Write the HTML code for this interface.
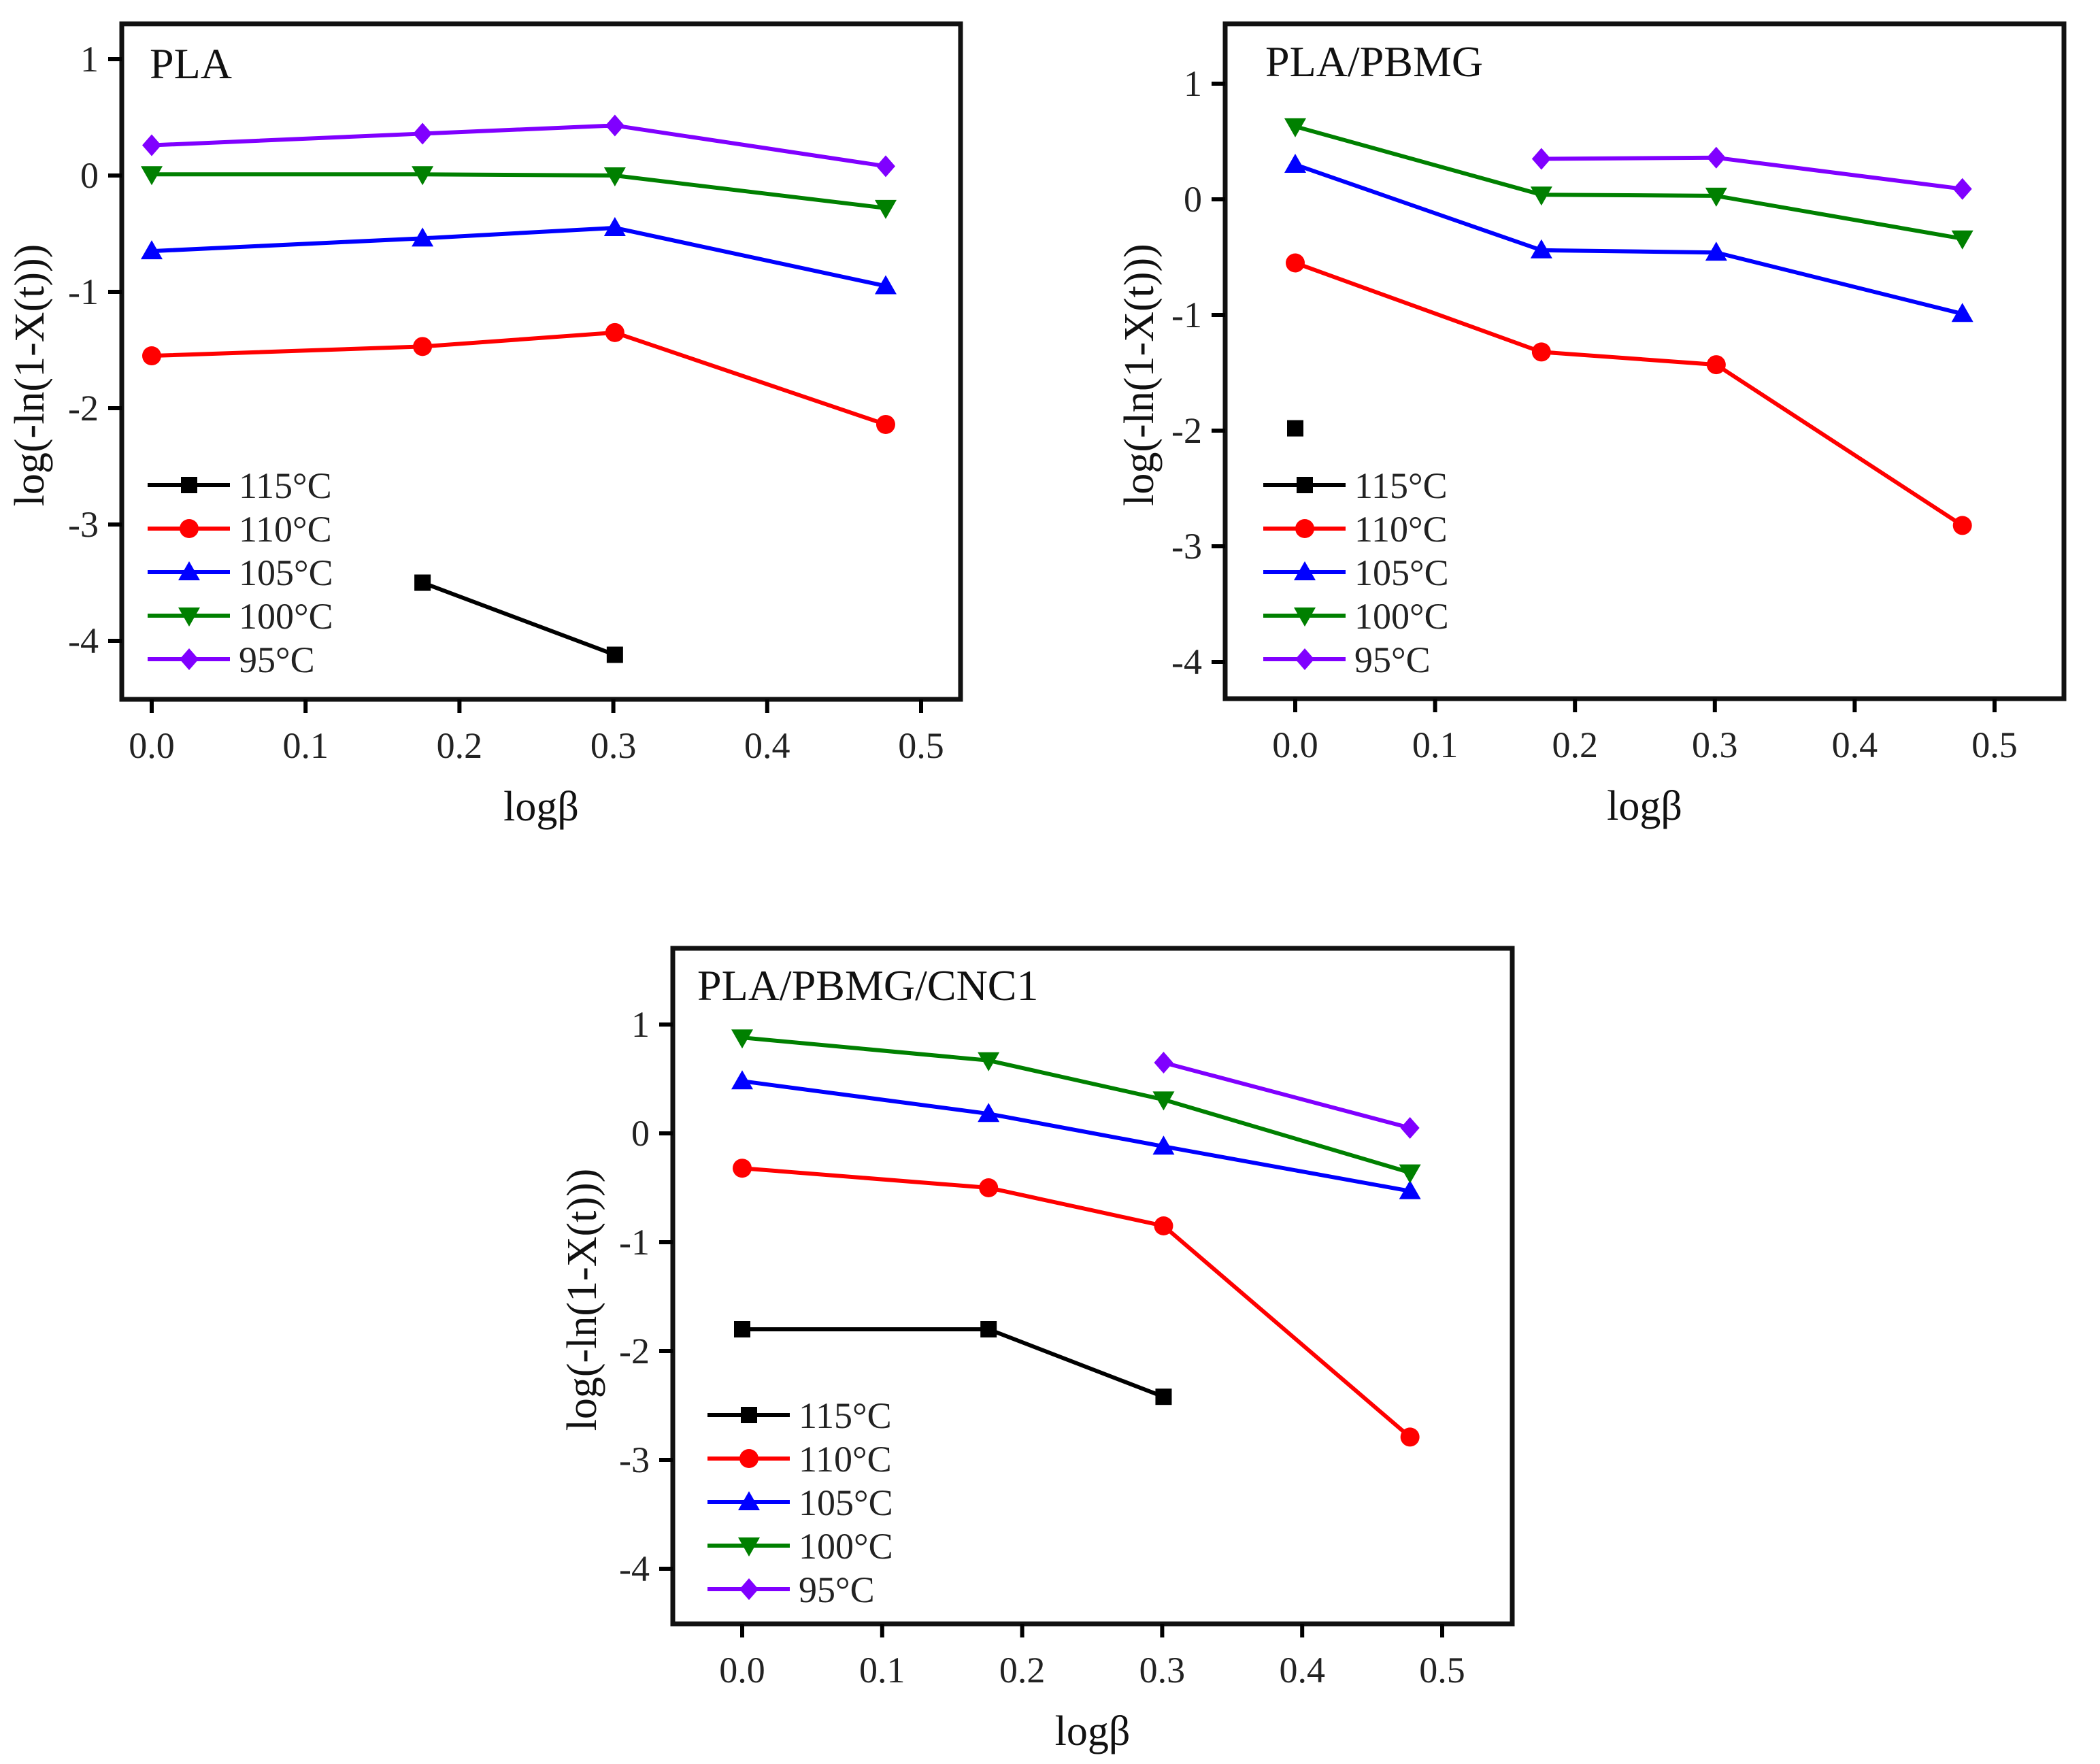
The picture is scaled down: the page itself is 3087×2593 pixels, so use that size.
<!DOCTYPE html>
<html><head><meta charset="utf-8">
<style>
html,body{margin:0;padding:0;background:#fff;}
svg{display:block;font-family:"Liberation Serif",serif;}
</style></head>
<body>
<svg id="fig" width="3087" height="2593" viewBox="0 0 3087 2593" xmlns="http://www.w3.org/2000/svg"></svg>
<script>
// shared data
const xVals = [0, 0.176, 0.301, 0.477];
const seriesNames = ["115°C","110°C","105°C","100°C","95°C"];
const seriesColors = ["#000000","#ff0000","#0000ff","#008000","#8000ff"];
const seriesMarkers = ["square","circle","up","down","diamond"];
const xTicks = [0,0.1,0.2,0.3,0.4,0.5];
const xTickLabels = ["0.0","0.1","0.2","0.3","0.4","0.5"];
const yTicks = [1,0,-1,-2,-3,-4];
const yTickLabels = ["1","0","-1","-2","-3","-4"];
// panel 1 PLA (null = missing)
const pla115 = [null, -3.5, -4.12, null];
const pla110 = [-1.55, -1.47, -1.35, -2.14];
const pla105 = [-0.65, -0.54, -0.45, -0.95];
const pla100 = [0.01, 0.01, 0.0, -0.28];
const pla95  = [0.26, 0.36, 0.43, 0.08];
// panel 2 PLA/PBMG
const pbmg115 = [-1.98, null, null, null];
const pbmg110 = [-0.55, -1.32, -1.43, -2.82];
const pbmg105 = [0.30, -0.44, -0.46, -0.99];
const pbmg100 = [0.63, 0.04, 0.03, -0.34];
const pbmg95  = [null, 0.35, 0.36, 0.09];
// panel 3 PLA/PBMG/CNC1
const cnc115 = [-1.80, -1.80, -2.42, null];
const cnc110 = [-0.32, -0.50, -0.85, -2.79];
const cnc105 = [0.48, 0.18, -0.12, -0.53];
const cnc100 = [0.88, 0.67, 0.31, -0.36];
const cnc95  = [null, null, 0.65, 0.05];

const NS = "http://www.w3.org/2000/svg";
const fig = document.getElementById("fig");
function mk(tag, attrs, parent){
  const e = document.createElementNS(NS, tag);
  for (const k in attrs) e.setAttribute(k, attrs[k]);
  (parent||fig).appendChild(e);
  return e;
}
function marker(g, type, cx, cy, color){
  let e;
  if (type==="square") e = mk("rect",{x:cx-12,y:cy-12,width:24,height:24,fill:color},g);
  else if (type==="circle") e = mk("circle",{cx:cx,cy:cy,r:14,fill:color},g);
  else if (type==="up") e = mk("polygon",{points:`${cx},${cy-16} ${cx-16},${cy+12} ${cx+16},${cy+12}`,fill:color},g);
  else if (type==="down") e = mk("polygon",{points:`${cx},${cy+16} ${cx-16},${cy-12} ${cx+16},${cy-12}`,fill:color},g);
  else e = mk("polygon",{points:`${cx},${cy-16} ${cx+14},${cy} ${cx},${cy+16} ${cx-14},${cy}`,fill:color},g);
  
  
  return e;
}
function panel(p){
  const g = mk("g",{});
  
  
  const X = v => p.x0 + v*p.xs;
  const Y = v => p.y0 - v*p.ys;
  p.series.forEach((arr, si) => {
    const sg = mk("g",{},g);
    
    
    let pts = [];
    arr.forEach((v,i)=>{ if (v!==null) pts.push([X(xVals[i]),Y(v)]); });
    if (pts.length>1){
      const pl = mk("polyline",{points:pts.map(q=>q.join(",")).join(" "),fill:"none",stroke:seriesColors[si],"stroke-width":6},sg);
      
      
    }
    pts.forEach(q=>marker(sg, seriesMarkers[si], q[0], q[1], seriesColors[si]));
  });
  const fr = mk("rect",{x:p.L,y:p.T,width:p.R-p.L,height:p.B-p.T,fill:"none",stroke:"#111","stroke-width":7},g);
  
  
  xTicks.forEach((t,i)=>{
    const x = X(t);
    const tk = mk("line",{x1:x,y1:p.B,x2:x,y2:p.B+20,stroke:"#000","stroke-width":6},g);
    
    
    const tx = mk("text",{x:x,y:p.B+86,"font-size":54,"text-anchor":"middle",fill:"#222"},g);
    tx.textContent = xTickLabels[i];
    
    
  });
  yTicks.forEach((t,i)=>{
    const y = Y(t);
    const tk = mk("line",{x1:p.L-20,y1:y,x2:p.L,y2:y,stroke:"#000","stroke-width":6},g);
    
    
    const tx = mk("text",{x:p.L-34,y:y+18,"font-size":54,"text-anchor":"end",fill:"#222"},g);
    tx.textContent = yTickLabels[i];
    
    
  });
  const tt = mk("text",{x:p.titleX,y:p.titleY,"font-size":64,fill:"#111"},g);
  tt.textContent = p.title;
  
  
  const xt = mk("text",{x:(p.L+p.R)/2,y:p.B+178,"font-size":62,"text-anchor":"middle",fill:"#111"},g);
  xt.textContent = "logβ";
  
  
  const yc = (p.T+p.B)/2 + 20;
  const yt = mk("text",{x:p.yTitleX,y:yc,"font-size":62,"text-anchor":"middle",fill:"#111",transform:`rotate(-90 ${p.yTitleX} ${yc})`},g);
  yt.textContent = "log(-ln(1-X(t)))";
  
  
  const lg = mk("g",{},g);
  
  
  seriesNames.forEach((n,i)=>{
    const y = p.legY + i*64;
    const eg = mk("g",{},lg);
    
    
    mk("line",{x1:p.legX,y1:y,x2:p.legX+121,y2:y,stroke:seriesColors[i],"stroke-width":6},eg);
    marker(eg, seriesMarkers[i], p.legX+61, y, seriesColors[i]);
    const t = mk("text",{x:p.legX+134,y:y+19,"font-size":54,fill:"#222"},eg);
    t.textContent = n;
  });
}
panel({name:"panel-pla", title:"PLA", L:179,T:35,R:1412,B:1028, x0:223,xs:2262, y0:258,ys:171,
  titleX:220,titleY:115, yTitleX:64, legX:217, legY:713,
  series:[pla115,pla110,pla105,pla100,pla95]});
panel({name:"panel-pla-pbmg", title:"PLA/PBMG", L:1801,T:35,R:3034,B:1027, x0:1904,xs:2056, y0:293,ys:170,
  titleX:1860,titleY:112, yTitleX:1695, legX:1857, legY:713,
  series:[pbmg115,pbmg110,pbmg105,pbmg100,pbmg95]});
panel({name:"panel-pla-pbmg-cnc1", title:"PLA/PBMG/CNC1", L:989,T:1394,R:2223,B:2387, x0:1091,xs:2058, y0:1666,ys:160,
  titleX:1025,titleY:1470, yTitleX:876, legX:1040, legY:2080,
  series:[cnc115,cnc110,cnc105,cnc100,cnc95]});
</script>
</body></html>
